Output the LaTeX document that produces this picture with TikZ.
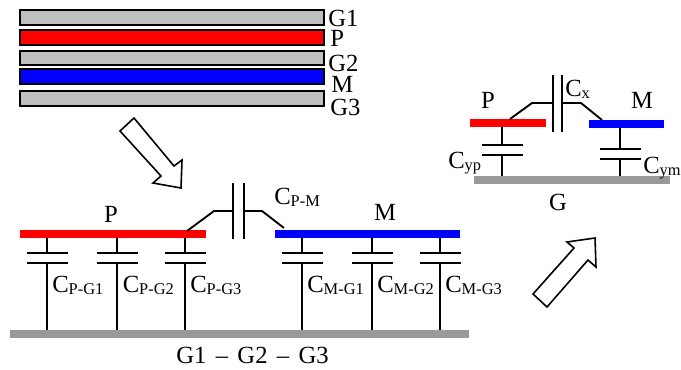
\documentclass[tikz,border=0pt]{standalone}
\usepackage{fontspec}
\setmainfont{Liberation Serif}
\newcommand{\bigfs}{\fontsize{18.5}{20}\selectfont}
\newcommand{\subfs}{\fontsize{12.3}{14}\selectfont}
\newcommand{\capname}[2]{C\raisebox{-2pt}{\subfs #2}}
\tikzset{
  px/.style={x=0.75pt,y=-0.75pt},
  wire/.style={draw=black,line width=1.4pt},
  plate/.style={draw=black,line width=1.4pt},
  layer/.style={draw=black,line width=1.2pt},
  txt/.style={anchor=base west,inner sep=0pt,font=\bigfs,text=black},
  ctxt/.style={anchor=base,inner sep=0pt,font=\bigfs,text=black},
  hollow/.style={draw=black,fill=white,line width=1.2pt,miter limit=4},
  redbar/.style={fill=red},
  bluebar/.style={fill=blue},
  graybar/.style={fill=black!40},
}
% \barnode{name}{x1}{y1}{x2}{y2}{style}
\newcommand{\barnode}[6]{%
  \node[#6,inner sep=0pt,outer sep=0pt,minimum width={(#4-#2)*0.75pt},minimum height={(#5-#3)*0.75pt}] (#1) at ({(#2+#4)/2},{(#3+#5)/2}) {};}
% \capv{name}{x}{ytop}{yp1}{yp2}{ybot}{plate half width}
\newcommand{\capv}[7]{%
  \coordinate (#1t) at (#2,#3);
  \coordinate (#1a) at (#2,#4);
  \coordinate (#1b) at (#2,#5);
  \coordinate (#1e) at (#2,#6);
  \coordinate (#1al) at (#2-#7,#4);
  \coordinate (#1ar) at (#2+#7,#4);
  \coordinate (#1bl) at (#2-#7,#5);
  \coordinate (#1br) at (#2+#7,#5);
  \draw[wire] (#1t) -- (#1a);
  \draw[wire] (#1b) -- (#1e);
  \draw[plate] (#1al) -- (#1ar);
  \draw[plate] (#1bl) -- (#1br);}
\begin{document}
\begin{tikzpicture}[px]
\useasboundingbox (0,0) rectangle (681,369);
% layer stack
\barnode{lgone}{20}{10}{324}{25}{layer,fill=black!25}
\barnode{lp}{20}{30}{324}{45}{layer,fill=red}
\barnode{lgtwo}{20}{51}{324}{65}{layer,fill=black!25}
\barnode{lm}{20}{69}{324}{84}{layer,fill=blue}
\barnode{lgthree}{20}{91}{324}{106}{layer,fill=black!25}
\node[txt] (tgone) at (328,26.5) {G1};
\node[txt] (tp) at (330,46) {P};
\node[txt] (tgtwo) at (328,71) {G2};
\node[txt] (tm) at (331,92.5) {M};
\node[txt] (tgthree) at (330,115) {G3};
% hollow arrows
\draw[hollow] (120,131) -- (134,118) -- (174,166) -- (182,160) -- (181,188) -- (153,183) -- (161,176) -- cycle;
\draw[hollow] (547,307) -- (533,294) -- (574,248) -- (567,242) -- (595,238) -- (596,267) -- (588,260) -- cycle;
% lower circuit
\capv{pa}{47}{238}{253}{263}{330}{20.5}
\capv{pb}{117}{238}{253}{263}{330}{20.5}
\capv{pc}{185}{238}{253}{263}{330}{20.5}
\capv{ma}{302}{238}{253}{263}{330}{20.5}
\capv{mb}{372}{238}{253}{263}{330}{20.5}
\capv{mc}{440}{238}{253}{263}{330}{20.5}
\barnode{bp}{20}{230}{206}{238}{redbar}
\barnode{bm}{275}{230}{460}{238}{bluebar}
\barnode{bg}{10}{330}{469}{337.5}{graybar}
\coordinate (xa) at (233,183);\coordinate (xb) at (233,239);
\coordinate (xc) at (244,183);\coordinate (xd) at (244,239);
\coordinate (xl) at (187,231);\coordinate (xlk) at (214,211);\coordinate (xlp) at (233,211);
\coordinate (xr) at (284,228);\coordinate (xrk) at (262,211);\coordinate (xrp) at (244,211);
\draw[plate] (xa) -- (xb);
\draw[plate] (xc) -- (xd);
\draw[wire] (xl) -- (xlk) -- (xlp);
\draw[wire] (xr) -- (xrk) -- (xrp);
\node[ctxt] (lbp) at (111,222) {P};
\node[ctxt] (lbm) at (385,220) {M};
\node[txt] (cpm) at (274,204) {\capname{}{P-M}};
\node[txt] (cpa) at (52,292) {\capname{}{P-G1}};
\node[txt] (cpb) at (122.5,292) {\capname{}{P-G2}};
\node[txt] (cpc) at (190,292) {\capname{}{P-G3}};
\node[txt] (cma) at (307,292) {\capname{}{M-G1}};
\node[txt] (cmb) at (377,292) {\capname{}{M-G2}};
\node[txt] (cmc) at (445,292) {\capname{}{M-G3}};
\node[txt] (lbg) at (176,363) {G1\hspace{2.4pt} -- \hspace{2.4pt}G2\hspace{2.4pt} -- \hspace{2.4pt}G3};
% upper right circuit
\capv{yp}{502}{127}{145}{155}{176}{20.5}
\capv{ym}{620}{128}{149}{159}{176}{20.5}
\barnode{rp}{470}{119}{545.5}{127}{redbar}
\barnode{rm}{589}{120}{664}{128}{bluebar}
\barnode{rg}{474}{176}{670}{184}{graybar}
\coordinate (ya) at (553,75);\coordinate (yb) at (553,132);
\coordinate (yc) at (562,75);\coordinate (yd) at (562,132);
\coordinate (yl) at (510,119);\coordinate (ylk) at (532,103);\coordinate (ylp) at (553,103);
\coordinate (yr) at (602,120);\coordinate (yrk) at (581,103);\coordinate (yrp) at (562,103);
\draw[plate] (ya) -- (yb);
\draw[plate] (yc) -- (yd);
\draw[wire] (yl) -- (ylk) -- (ylp);
\draw[wire] (yr) -- (yrk) -- (yrp);
\node[ctxt] (rbp) at (488,108) {P};
\node[ctxt] (rbm) at (642,108) {M};
\node[ctxt] (rbg) at (558,210) {G};
\node[txt] (cx) at (565,96) {\capname{}{x}};
\node[txt] (cyp) at (448,168) {\capname{}{yp}};
\node[txt] (cym) at (643,173) {\capname{}{ym}};
\end{tikzpicture}
\end{document}
